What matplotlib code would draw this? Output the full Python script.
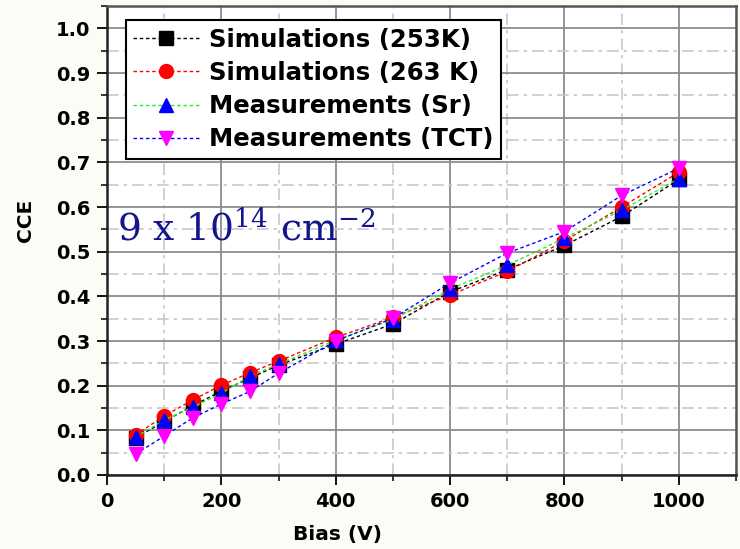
import numpy as np
import matplotlib
matplotlib.use("Agg")
import matplotlib.pyplot as plt
from matplotlib.ticker import MultipleLocator

# bias points (V) and charge collection efficiency for each data set
bias = [50, 100, 150, 200, 250, 300, 400, 500, 600, 700, 800, 900, 1000]
sim_253 = [0.083, 0.120, 0.155, 0.188, 0.217, 0.246, 0.293, 0.338, 0.410, 0.460, 0.514, 0.579, 0.662]
sim_263 = [0.090, 0.132, 0.168, 0.201, 0.229, 0.255, 0.308, 0.353, 0.403, 0.456, 0.524, 0.600, 0.678]
meas_sr = [0.085, 0.123, 0.152, 0.183, 0.222, 0.248, 0.302, 0.348, 0.416, 0.470, 0.530, 0.593, 0.664]
meas_tct = [0.047, 0.087, 0.128, 0.159, 0.187, 0.228, 0.300, 0.351, 0.430, 0.497, 0.545, 0.626, 0.687]

labels = ["Simulations (253K)", "Simulations (263 K)",
          "Measurements (Sr)", "Measurements (TCT)"]

plt.rcParams['font.family'] = ['DejaVu Sans']
plt.rcParams['mathtext.fontset'] = 'dejavuserif'

fig = plt.figure(figsize=(7.40, 5.49), dpi=100, facecolor='#fcfcf7')
ax = fig.add_axes([0.1446, 0.1348, 0.850, 0.854])
ax.set_facecolor('white')

style = dict(linestyle=(0, (2.5, 2)), linewidth=1.0, markersize=10)
ax.plot(bias, sim_253, color='black', marker='s', mfc='black', mec='black',
        label=labels[0], zorder=3, **style)
ax.plot(bias, sim_263, color='red', marker='o', mfc='red', mec='red',
        label=labels[1], zorder=3, **style)
ax.plot(bias, meas_sr, color='#22ee22', marker='^', mfc='blue', mec='blue',
        label=labels[2], zorder=4, **style)
ax.plot(bias, meas_tct, color='blue', marker='v', mfc='magenta', mec='magenta',
        label=labels[3], zorder=4, **style)

ax.set_xlim(0, 1100)
ax.set_ylim(0, 1.05)
ax.xaxis.set_major_locator(MultipleLocator(200))
ax.xaxis.set_minor_locator(MultipleLocator(100))
ax.yaxis.set_major_locator(MultipleLocator(0.1))
ax.yaxis.set_minor_locator(MultipleLocator(0.05))
ax.yaxis.set_major_formatter(matplotlib.ticker.FormatStrFormatter('%.1f'))

ax.grid(which='major', color='#8c8c8c', linewidth=1.3, linestyle='-')
ax.grid(which='minor', color='#c8c8c8', linewidth=1.2, linestyle=(0, (7, 3, 2, 3)))
ax.set_axisbelow(True)

ax.tick_params(which='both', direction='out', top=False, right=False)
ax.tick_params(which='major', length=7, width=1.3, labelsize=14, pad=5)
ax.tick_params(which='minor', length=4, width=1.1)
for t in ax.get_xticklabels() + ax.get_yticklabels():
    t.set_fontweight('bold')

for side in ['left', 'bottom']:
    ax.spines[side].set_linewidth(1.8)
    ax.spines[side].set_color('#222222')
for side in ['top', 'right']:
    ax.spines[side].set_linewidth(1.8)
    ax.spines[side].set_color('#555555')

ax.set_xlabel("Bias (V)", fontsize=14.5, fontweight='bold')
ax.xaxis.set_label_coords(0.366, -0.106)
ax.set_ylabel("CCE", fontsize=14.5, fontweight='bold')
ax.yaxis.set_label_coords(-0.1145, 0.544)

leg = ax.legend(loc='upper left', bbox_to_anchor=(0.030, 0.970), fancybox=False,
                framealpha=1, edgecolor='black', borderpad=0.3, labelspacing=0.38,
                handlelength=2.7, handletextpad=0.4, borderaxespad=0,
                prop={'weight': 'bold', 'size': 17.6})
leg.get_frame().set_linewidth(1.5)

# fluence annotation
ax.text(17, 0.525, r"9 x 10$^{14}$ cm$^{-2}$", family='DejaVu Serif',
        fontsize=27, color='#14148c', va='baseline', ha='left', zorder=5)

fig.savefig("out.png", dpi=100, facecolor=fig.get_facecolor())
